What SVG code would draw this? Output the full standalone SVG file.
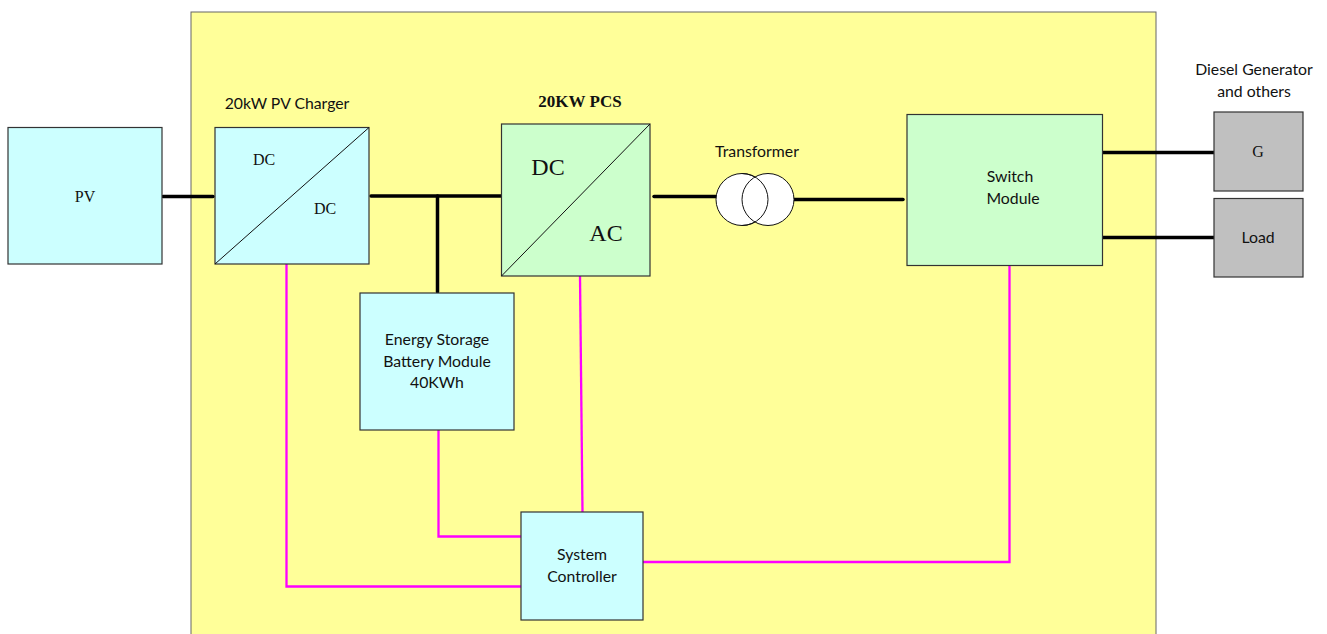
<svg xmlns="http://www.w3.org/2000/svg" width="1327" height="634" viewBox="0 0 1327 634">
<style>
.box{stroke:#333;stroke-width:1.2}
.cyan{fill:#ccffff}
.green{fill:#ccffcc}
.grey{fill:#c0c0c0}
.diag{stroke:#111;stroke-width:1;fill:none}
.pw{stroke:#000;stroke-width:3.5;fill:none;stroke-linecap:round}
.sig{stroke:#ff00ff;stroke-width:2.3;fill:none}
.c{font-family:Lato,"Liberation Sans",sans-serif;font-size:15.800px;fill:#111;text-anchor:middle}
.t{font-family:"Liberation Serif",serif;fill:#111;text-anchor:middle}
.coil{fill:#fff;stroke:#111;stroke-width:1}
</style>
<rect x="191" y="12" width="965" height="630" fill="#ffff99" stroke="#666" stroke-width="1"/>
<g id="connectors">
<path class="pw" d="M163 196.500H213"/>
<path class="pw" d="M371 196H502"/>
<path class="pw" d="M437.500 196V292"/>
<path class="pw" d="M654 196.500H717"/>
<path class="pw" d="M793 199.500H903"/>
<path class="pw" d="M1103 152.500H1214"/>
<path class="pw" d="M1102 237.500H1214"/>
<path class="sig" d="M286.500 264V586.500H521"/>
<path class="sig" d="M438.500 430V536.500H521"/>
<path class="sig" d="M580 276L582.500 512"/>
<path class="sig" d="M643 562H1009.500V262"/>
</g>
<g id="pv"><rect class="box cyan" x="8" y="127.500" width="154" height="136.500"/><text class="t" x="85" y="202" font-size="16">PV</text></g>
<g id="pv-charger"><rect class="box cyan" x="215" y="127.500" width="154" height="136.500"/><path class="diag" d="M215 264L369 127.500"/><text class="t" x="264" y="165" font-size="16">DC</text><text class="t" x="325" y="214" font-size="16">DC</text></g>
<text class="c" x="287" y="109">20kW PV Charger</text>
<g id="pcs"><rect class="box green" x="501.500" y="124" width="148.500" height="152"/><path class="diag" d="M501.500 276L650 124"/><text class="t" x="548" y="175" font-size="24">DC</text><text class="t" x="606" y="241" font-size="24">AC</text></g>
<text class="t" x="580" y="107" font-size="17" font-weight="bold">20KW PCS</text>
<g id="transformer"><circle class="coil" cx="742" cy="199.500" r="26"/><circle class="coil" cx="768" cy="199.500" r="26"/><path d="M742 173.500A26 26 0 0 1 742 225.500" fill="none" stroke="#111"/><text class="c" x="757" y="157">Transformer</text></g>
<g id="switch"><rect class="box green" x="907" y="114.500" width="195.500" height="151"/><text class="c" x="1010" y="182">Switch</text><text class="c" x="1013" y="204">Module</text></g>
<g id="battery"><rect class="box cyan" x="360" y="293" width="154" height="137"/><text class="c" x="437" y="345">Energy Storage</text><text class="c" x="437" y="367">Battery Module</text><text class="c" x="437" y="388">40KWh</text></g>
<g id="controller"><rect class="box cyan" x="521" y="512" width="122" height="108"/><text class="c" x="582" y="560">System</text><text class="c" x="582" y="582">Controller</text></g>
<g id="generator"><rect class="box grey" x="1214" y="112" width="89" height="79"/><text class="t" x="1258" y="157" font-size="16">G</text><text class="c" x="1254" y="75">Diesel Generator</text><text class="c" x="1254" y="97">and others</text></g>
<g id="load"><rect class="box grey" x="1214" y="198.500" width="89" height="78.500"/><text class="c" x="1258" y="243">Load</text></g>
</svg>
